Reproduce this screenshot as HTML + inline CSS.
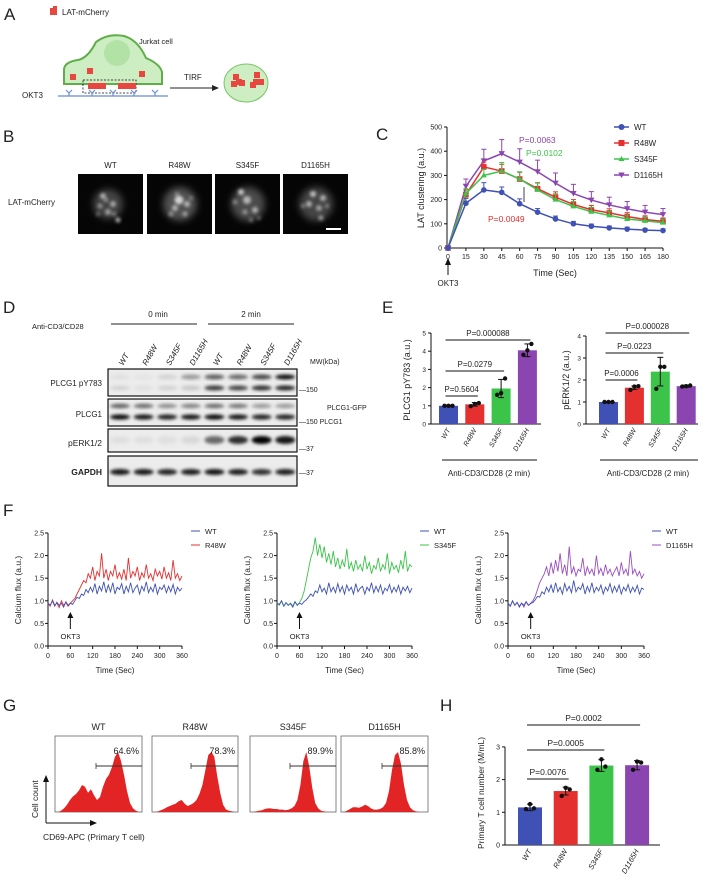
<!DOCTYPE html>
<html><head><meta charset="utf-8">
<style>
html,body{margin:0;padding:0;background:#fff;}
svg{display:block;font-family:"Liberation Sans",Arial,sans-serif;}
text{fill:#222;}
</style></head>
<body>
<svg id="fig" width="705" height="886" viewBox="0 0 705 886" xmlns="http://www.w3.org/2000/svg">
<defs>
<filter id="blur1" x="-50%" y="-50%" width="200%" height="200%"><feGaussianBlur stdDeviation="1.6"/></filter>
<filter id="blur2" x="-50%" y="-50%" width="200%" height="200%"><feGaussianBlur stdDeviation="3.5"/></filter>
</defs>
<!-- Panel A -->
<g>
<text x="4" y="20" font-size="17">A</text>
<g><rect x="50" y="8" width="7" height="7" fill="#e8473f"/><rect x="53" y="6" width="4" height="4" fill="#e8473f"/></g>
<text x="62" y="15" font-size="8">LAT-mCherry</text>
<path d="M64,84 L64,70 Q64,62 78,60 Q88,58 96,42 Q108,33 124,36 Q138,40 146,58 Q160,64 162,72 L162,84 Z" fill="#cdeec3" stroke="#5fae4a" stroke-width="2"/>
<circle cx="117" cy="53" r="13" fill="#b3e2a6"/>
<text x="139" y="44" font-size="7.5">Jurkat cell</text>
<rect x="83" y="80" width="53" height="13" fill="none" stroke="#111" stroke-dasharray="2,1.5" stroke-width="0.8"/>
<g fill="#e8473f">
<rect x="70" y="74" width="6" height="6"/><rect x="87" y="68" width="6" height="6"/><rect x="139" y="71" width="6" height="6"/>
<rect x="88" y="83" width="6" height="6"/><rect x="94" y="83" width="6" height="6"/><rect x="100" y="83" width="6" height="6"/>
<rect x="118" y="83" width="6" height="6"/><rect x="124" y="83" width="6" height="6"/><rect x="130" y="83" width="6" height="6"/>
</g>
<line x1="58" y1="96" x2="168" y2="96" stroke="#7fa0d8" stroke-width="1.5"/>
<g stroke="#6c8fd0" stroke-width="1.2" fill="none">
<path d="M66,90 L69,93 L72,90 M69,93 V96"/><path d="M89,90 L92,93 L95,90 M92,93 V96"/><path d="M110,90 L113,93 L116,90 M113,93 V96"/><path d="M131,90 L134,93 L137,90 M134,93 V96"/><path d="M152,90 L155,93 L158,90 M155,93 V96"/>
</g>
<text x="22" y="98" font-size="8">OKT3</text>
<text x="184" y="80" font-size="8">TIRF</text>
<line x1="170" y1="88" x2="213" y2="88" stroke="#222" stroke-width="1"/>
<path d="M219,88 L212,85 L212,91 Z" fill="#222"/>
<ellipse cx="246" cy="83" rx="22" ry="19" fill="#cdeec3" stroke="#7cc46a" stroke-width="1"/>
<g fill="#e8473f">
<rect x="233" y="74" width="6" height="6"/><rect x="236" y="79" width="6" height="6"/><rect x="231" y="81" width="6" height="6"/><rect x="239" y="80" width="6" height="6"/>
<rect x="254" y="72" width="6" height="6"/><rect x="253" y="79" width="6" height="6"/><rect x="258" y="79" width="6" height="6"/><rect x="250" y="82" width="6" height="6"/>
</g>
</g>
<!-- Panel B -->
<g>
<text x="3" y="142" font-size="17">B</text>
<text x="8" y="205" font-size="8">LAT-mCherry</text>
<g id="micro"></g>
</g>
<!-- Panel C -->
<g id="panelC">
<text x="376" y="140" font-size="17">C</text>
</g>
<!-- Panel D -->
<g id="panelD">
<text x="3" y="313" font-size="17">D</text>
<text x="32" y="329" font-size="7.5">Anti-CD3/CD28</text>
<text x="158" y="317" font-size="8" text-anchor="middle">0 min</text>
<text x="251" y="317" font-size="8" text-anchor="middle">2 min</text>
<line x1="111" y1="324" x2="197" y2="324" stroke="#222" stroke-width="0.9"/>
<line x1="208" y1="324" x2="294" y2="324" stroke="#222" stroke-width="0.9"/>
<text x="310" y="364" font-size="7">MW(kDa)</text>
<text x="102" y="386" font-size="8" text-anchor="end">PLCG1 pY783</text>
<text x="102" y="417" font-size="8" text-anchor="end">PLCG1</text>
<text x="102" y="446" font-size="8.5" text-anchor="end">pERK1/2</text>
<text x="102" y="475" font-size="8.5" text-anchor="end" font-weight="bold">GAPDH</text>
<text x="299" y="392" font-size="7">—150</text>
<text x="327" y="410" font-size="7">PLCG1-GFP</text>
<text x="299" y="424" font-size="7">—150 PLCG1</text>
<text x="299" y="451" font-size="7">—37</text>
<text x="299" y="475" font-size="7">—37</text>
</g>
<g id="panelE">
<text x="382" y="313" font-size="17">E</text>
</g>
<g id="panelF">
<text x="3" y="516" font-size="17">F</text>
</g>
<g id="panelG">
<text x="3" y="711" font-size="17">G</text>
<text x="38" y="818" font-size="8.5" transform="rotate(-90 38 818)">Cell count</text>
<line x1="46" y1="823" x2="46" y2="780" stroke="#111" stroke-width="1"/>
<path d="M46,775 L43,782 L49,782 Z" fill="#111"/>
<line x1="46" y1="823" x2="91" y2="823" stroke="#111" stroke-width="1"/>
<path d="M97,823 L90,820 L90,826 Z" fill="#111"/>
<text x="43" y="840" font-size="8.5">CD69-APC (Primary T cell)</text>
</g>
<g id="panelH">
<text x="440" y="711" font-size="17">H</text>
</g>
</svg>
<script>
var NS='http://www.w3.org/2000/svg';
function mk(tag,attrs,parent,txt){var e=document.createElementNS(NS,tag);for(var k in attrs)e.setAttribute(k,attrs[k]);if(txt!==undefined)e.textContent=txt;(parent||document.getElementById('fig')).appendChild(e);return e;}

/* ---------- Panel C data ---------- */
var cTimes=[0,15,30,45,60,75,90,105,120,135,150,165,180];
var cWT=[0,185,240,230,183,148,120,100,90,83,78,74,72];
var cWTerr=[0,20,30,22,20,15,12,10,9,8,8,7,7];
var cR48W=[0,220,335,318,285,245,210,180,158,145,130,118,110];
var cR48Werr=[0,20,20,28,28,25,22,20,18,17,16,15,14];
var cS345F=[0,225,300,318,285,240,200,172,150,135,120,112,105];
var cS345Ferr=[0,20,25,35,30,28,24,20,18,17,16,15,14];
var cD1165H=[0,255,360,390,355,315,268,225,198,178,162,148,138];
var cD1165Herr=[0,30,48,58,55,48,42,38,35,32,30,28,25];
var cYTicks=[0,100,200,300,400,500];
var cNames=['WT','R48W','S345F','D1165H'];
var colors=['#3f51b5','#e53030','#3cc44a','#8b45b0'];

(function(){
 var g=document.getElementById('panelC');
 var X=function(t){return 448+(t-0)/180*215;};
 var Y=function(v){return 248-v/500*121;};
 mk('line',{x1:447,y1:Y(0),x2:447,y2:Y(500),stroke:'#111','stroke-width':1},g);
 mk('line',{x1:447,y1:248,x2:X(180),y2:248,stroke:'#111','stroke-width':1},g);
 cYTicks.forEach(function(v){mk('line',{x1:444,y1:Y(v),x2:447,y2:Y(v),stroke:'#111'},g);
  var t=mk('text',{x:442,y:Y(v)+2.5,'font-size':7,'text-anchor':'end'},g,v);
  
  });
 cTimes.forEach(function(v){mk('line',{x1:X(v),y1:248,x2:X(v),y2:251,stroke:'#111'},g);
  var t=mk('text',{x:X(v),y:259,'font-size':7,'text-anchor':'middle'},g,v);
  
  });
 var yt=mk('text',{x:424,y:188,'font-size':9,'text-anchor':'middle',transform:'rotate(-90 424 188)'},g,'LAT clustering (a.u.)');
 
 
 var xt=mk('text',{x:555,y:276,'font-size':9,'text-anchor':'middle'},g,'Time (Sec)');
 
 
 mk('line',{x1:448,y1:263,x2:448,y2:275,stroke:'#111'},g);
 mk('path',{d:'M448,258 L445,265 L451,265 Z',fill:'#111'},g);
 var ok=mk('text',{x:448,y:286,'font-size':8,'text-anchor':'middle'},g,'OKT3');
 
 
 var series=[[cWT,cWTerr],[cR48W,cR48Werr],[cS345F,cS345Ferr],[cD1165H,cD1165Herr]];
 [3,1,2,0].forEach(function(si){
  var s=series[si][0],e=series[si][1],c=colors[si];
  var eg=mk('g',{},g);
  s.forEach(function(v,i){var x=X(cTimes[i]);
   mk('line',{x1:x,y1:Y(v),x2:x,y2:Y(v+e[i]),stroke:c,'stroke-width':1},eg);
   mk('line',{x1:x-2.5,y1:Y(v+e[i]),x2:x+2.5,y2:Y(v+e[i]),stroke:c,'stroke-width':1},eg);});
  var d=s.map(function(v,i){return (i?'L':'M')+X(cTimes[i])+','+Y(v);}).join(' ');
  var p=mk('path',{d:d,fill:'none',stroke:c,'stroke-width':1.5},g);
  
  
  s.forEach(function(v,i){var x=X(cTimes[i]),y=Y(v),m;
   if(si==0)m=mk('circle',{cx:x,cy:y,r:2.8,fill:c},g);
   else if(si==1)m=mk('rect',{x:x-2.8,y:y-2.8,width:5.6,height:5.6,fill:c},g);
   else if(si==2)m=mk('path',{d:'M'+x+','+(y-3)+' L'+(x+3)+','+(y+2)+' L'+(x-3)+','+(y+2)+'Z',fill:c},g);
   else m=mk('path',{d:'M'+x+','+(y+3)+' L'+(x+3.2)+','+(y-2.5)+' L'+(x-3.2)+','+(y-2.5)+'Z',fill:c},g);
   
   });
 });
 mk('line',{x1:524,y1:187,x2:524,y2:202,stroke:'#111','stroke-width':0.8},g);
 var p1=mk('text',{x:519,y:143,'font-size':8.5,fill:'#8b45b0'},g,'P=0.0063');p1.style.fill='#8b45b0';
 
 
 var p2=mk('text',{x:526,y:156,'font-size':8.5},g,'P=0.0102');p2.style.fill='#3cc44a';
 
 
 var p3=mk('text',{x:488,y:222,'font-size':8.5},g,'P=0.0049');p3.style.fill='#e53030';
 
 
 cNames.forEach(function(n,i){var y=127+i*16;
  mk('line',{x1:614,y1:y,x2:629,y2:y,stroke:colors[i],'stroke-width':1.5},g);
  if(i==0)mk('circle',{cx:621.5,cy:y,r:3,fill:colors[i]},g);
  else if(i==1)mk('rect',{x:618.5,y:y-3,width:6,height:6,fill:colors[i]},g);
  else if(i==2)mk('path',{d:'M621.5,'+(y-3)+' l3,5 l-6,0 Z',fill:colors[i]},g);
  else mk('path',{d:'M621.5,'+(y+3)+' l3.2,-5.5 l-6.4,0 Z',fill:colors[i]},g);
  var t=mk('text',{x:634,y:y+3,'font-size':8},g,n);
  
  });
})();

/* ---------- Panel B microscopy ---------- */
var bNames=['WT','R48W','S345F','D1165H'];
(function(){
 var g=document.getElementById('micro');
 var xs=[78,147,215,283];
 var blobs=[
  [[30,30,15,0.25],[25,22,3,0.6],[35,30,3,0.55],[30,38,3,0.5],[40,46,2.5,0.7],[22,32,2.5,0.45],[28,26,2,0.5],[36,40,2,0.45],[20,40,2,0.35]],
  [[33,30,17,0.3],[32,26,4.5,0.75],[28,34,3,0.6],[40,30,3,0.6],[24,40,2.5,0.45],[38,40,2.5,0.5],[30,20,2,0.4],[44,24,2,0.35]],
  [[33,30,17,0.28],[26,18,3,0.75],[32,26,4,0.6],[40,36,3,0.6],[30,38,2.5,0.45],[20,28,2.5,0.4],[36,46,2,0.4],[44,44,2,0.35]],
  [[33,30,17,0.25],[30,20,3,0.7],[40,24,3,0.6],[26,30,3,0.6],[36,34,3,0.5],[38,44,2.5,0.55],[20,32,2,0.4],[44,32,2,0.4]]];
 xs.forEach(function(x,i){
  var r=mk('rect',{x:x,y:174,width:65,height:60,fill:'#050505'},g);
  
  
  blobs[i].forEach(function(b,j){mk('circle',{cx:x+b[0],cy:174+b[1],r:b[2],fill:'#fff','fill-opacity':b[3],filter:j==0?'url(#blur2)':'url(#blur1)'},g);});
  var t=mk('text',{x:x+32.5,y:168,'font-size':8,'text-anchor':'middle'},g,bNames[i]);
  
  });
 mk('line',{x1:326,y1:229,x2:341,y2:229,stroke:'#fff','stroke-width':2},g);
})();

/* ---------- Panel D blots ---------- */
var dLanes=['WT','R48W','S345F','D1165H','WT','R48W','S345F','D1165H'];
var dPY783Upper=[0.05,0.03,0.1,0.35,0.6,0.55,0.7,0.95];
var dPY783Lower=[0.1,0.05,0.1,0.15,0.75,0.7,0.8,0.85];
var dPLCG1Upper=[0.6,0.55,0.4,0.45,0.55,0.5,0.35,0.35];
var dPLCG1Lower=[0.95,0.9,0.85,0.9,0.95,0.9,0.85,0.85];
var dPERK=[0.05,0.05,0.05,0.08,0.55,0.8,1.0,0.9];
var dGAPDH=[0.9,0.9,0.85,0.88,0.92,0.88,0.8,0.88];
(function(){
 var g=document.getElementById('panelD');
 var L=function(i){return 120+i*23.6;};
 var boxes=[[369,27],[399,27],[429,23],[456,30]];
 var bn=['blot-plcg1-py783','blot-plcg1','blot-perk','blot-gapdh'];
 boxes.forEach(function(b,i){var r=mk('rect',{x:108,y:b[0],width:189,height:b[1],fill:'#ececec',stroke:'#111','stroke-width':1.2},g);
  
  });
 function bands(arr,y,h){arr.forEach(function(v,i){var b=mk('ellipse',{cx:L(i),cy:y,rx:10,ry:h,fill:'#000','fill-opacity':v,filter:'url(#blur1)'},g);
  
  });}
 bands(dPY783Upper,377,2.5);bands(dPY783Lower,388,2.5);
 bands(dPLCG1Upper,406,2.2);bands(dPLCG1Lower,417,2.6);
 bands(dPERK,440,4);bands(dGAPDH,472,3);
 dLanes.forEach(function(n,i){var x=L(i)+3,y=366;
  var t=mk('text',{x:x,y:y,'font-size':8,'font-style':'italic',transform:'rotate(-60 '+x+' '+y+')'},g,n);
  
  });
})();

/* ---------- Panel E ---------- */
var eCats=['WT','R48W','S345F','D1165H'];
var e1Vals=[1.0,1.08,1.95,4.05];
var e1Err=[0.03,0.1,0.5,0.35];
var e1Pts=[[1,1,1],[0.98,1.1,1.15],[1.6,1.7,2.5],[3.8,4.05,4.4]];
var e1Ticks=[0,1,2,3,4,5];
var e1P=['P=0.5604','P=0.0279','P=0.000088'];
var e2Vals=[1.0,1.65,2.38,1.72];
var e2Err=[0.03,0.08,0.65,0.05];
var e2Pts=[[1,1,1],[1.55,1.7,1.72],[1.6,2.6,2.6],[1.7,1.72,1.75]];
var e2Ticks=[0,1,2,3,4];
var e2P=['P=0.0006','P=0.0223','P=0.000028'];
function barChart(g,o){
 var Y=function(v){return o.y0-v*o.unit;};
 var top=Y(o.ticks[o.ticks.length-1]);
 mk('line',{x1:o.ax,y1:o.y0,x2:o.ax,y2:top,stroke:'#111'},g);
 mk('line',{x1:o.ax,y1:o.y0,x2:o.axEnd,y2:o.y0,stroke:'#111'},g);
 o.ticks.forEach(function(v){mk('line',{x1:o.ax-3,y1:Y(v),x2:o.ax,y2:Y(v),stroke:'#111'},g);
  var t=mk('text',{x:o.ax-5,y:Y(v)+2.5,'font-size':o.fs,'text-anchor':'end'},g,v);
  
  });
 o.vals.forEach(function(v,i){var x=o.x0+i*o.step;
  var b=mk('rect',{x:x,y:Y(v),width:o.bw,height:v*o.unit,fill:colors[i]},g);
  
  
  var cx=x+o.bw/2;
  mk('line',{x1:cx,y1:Y(v-o.err[i]),x2:cx,y2:Y(v+o.err[i]),stroke:'#111','stroke-width':1},g);
  mk('line',{x1:cx-3,y1:Y(v+o.err[i]),x2:cx+3,y2:Y(v+o.err[i]),stroke:'#111'},g);
  mk('line',{x1:cx-3,y1:Y(v-o.err[i]),x2:cx+3,y2:Y(v-o.err[i]),stroke:'#111'},g);
  o.pts[i].forEach(function(p,j){var d=mk('circle',{cx:cx+(j-1)*4,cy:Y(p),r:2.2,fill:'#111'},g);
   
   });
  var lx=cx+2,ly=o.y0+6;
  var t=mk('text',{x:lx,y:ly,'font-size':o.fs+0.5,'text-anchor':'end','font-style':'italic',transform:'rotate(-60 '+lx+' '+ly+')'},g,o.cats[i]);
  
  });
 var yt=mk('text',{x:o.ylx,y:o.yly,'font-size':o.tfs,'text-anchor':'middle',transform:'rotate(-90 '+o.ylx+' '+o.yly+')'},g,o.ylabel);
 
 
 o.pLines.forEach(function(pl,k){var x1=o.x0+o.bw/2-3,x2=o.x0+pl[0]*o.step+o.bw/2+3;
  mk('line',{x1:x1,y1:pl[1],x2:x2,y2:pl[1],stroke:'#111','stroke-width':1},g);
  var t=mk('text',{x:(x1+x2)/2,y:pl[1]-4,'font-size':o.pfs,'text-anchor':'middle'},g,o.pTxt[k]);
  
  });
}
(function(){
 var g=document.getElementById('panelE');
 barChart(g,{id:'e1',cats:eCats,vals:e1Vals,err:e1Err,pts:e1Pts,ticks:e1Ticks,y0:424,unit:18.2,ax:431,axEnd:541,x0:439,step:26.3,bw:19,fs:6.5,tfs:9,pfs:8,ylx:410,yly:380,ylabel:'PLCG1 pY783 (a.u.)',pLines:[[1,396],[2,371],[3,340]],pTxt:e1P});
 barChart(g,{id:'e2',cats:eCats,vals:e2Vals,err:e2Err,pts:e2Pts,ticks:e2Ticks,y0:424,unit:22,ax:586,axEnd:698,x0:599,step:25.9,bw:19,fs:6.5,tfs:9,pfs:8,ylx:569,yly:380,ylabel:'pERK1/2 (a.u.)',pLines:[[1,380],[2,353],[3,333]],pTxt:e2P});
 mk('line',{x1:442,y1:460,x2:537,y2:460,stroke:'#111'},g);
 mk('line',{x1:600,y1:460,x2:698,y2:460,stroke:'#111'},g);
 var a=mk('text',{x:489,y:476,'font-size':8,'text-anchor':'middle'},g,'Anti-CD3/CD28 (2 min)');
 
 
 var b=mk('text',{x:648,y:476,'font-size':8,'text-anchor':'middle'},g,'Anti-CD3/CD28 (2 min)');
 
 
})();

/* ---------- Panel F calcium ---------- */
var fTicks=[0,60,120,180,240,300,360];
var fYTicks=[0.0,0.5,1.0,1.5,2.0,2.5];
var fWT1=[0.95,0.9,1.0,0.88,0.97,0.9,0.95,0.86,0.98,0.9,0.95,0.92,1.0,1.08,1.05,1.15,1.12,1.25,1.18,1.3,1.2,1.38,1.15,1.32,1.22,1.42,1.18,1.35,1.2,1.4,1.15,1.3,1.25,1.38,1.15,1.32,1.2,1.4,1.18,1.28,1.35,1.15,1.32,1.22,1.42,1.18,1.3,1.2,1.38,1.15,1.3,1.25,1.35,1.18,1.32,1.2,1.36,1.15,1.3,1.22,1.28];
var fR48W=[0.95,0.88,1.02,0.9,0.95,0.85,1.0,0.9,0.96,0.88,0.94,1.0,1.05,1.15,1.25,1.35,1.45,1.4,1.6,1.5,1.75,1.45,1.65,1.55,2.05,1.5,1.7,1.45,1.65,1.55,1.8,1.5,1.62,1.48,1.7,1.45,1.95,1.5,1.65,1.55,1.75,1.45,1.62,1.52,1.8,1.5,1.6,1.45,1.7,1.55,1.65,1.48,1.75,1.5,1.62,1.45,1.9,1.5,1.6,1.45,1.55];
var fWT2=[0.95,0.92,1.0,0.88,0.96,0.9,0.94,0.86,0.98,0.9,0.95,0.92,0.98,1.02,1.08,1.15,1.1,1.22,1.18,1.35,1.2,1.28,1.15,1.4,1.2,1.3,1.18,1.38,1.2,1.32,1.15,1.35,1.22,1.3,1.15,1.38,1.2,1.28,1.32,1.15,1.3,1.22,1.4,1.18,1.32,1.2,1.35,1.15,1.28,1.22,1.36,1.18,1.3,1.2,1.34,1.15,1.3,1.22,1.32,1.18,1.28];
var fS345F=[0.95,0.9,1.0,0.88,0.96,0.9,0.95,0.88,0.98,0.9,0.96,1.05,1.2,1.45,1.7,1.95,2.1,2.4,2.0,2.25,1.95,2.2,1.85,2.05,1.8,2.1,1.75,1.95,1.7,1.9,1.75,2.15,1.7,1.85,1.65,1.9,1.7,1.8,1.65,2.0,1.7,1.85,1.6,1.78,1.7,1.95,1.65,1.8,1.7,2.05,1.6,1.85,1.7,1.78,1.62,1.9,1.7,2.1,1.65,1.8,1.75];
var fWT3=[0.95,0.88,1.0,0.9,0.97,0.86,0.95,0.9,0.98,0.9,0.94,0.96,1.02,1.1,1.08,1.2,1.15,1.3,1.2,1.35,1.18,1.4,1.2,1.3,1.15,1.38,1.22,1.32,1.18,1.45,1.2,1.3,1.25,1.38,1.15,1.32,1.2,1.4,1.18,1.3,1.22,1.35,1.15,1.3,1.22,1.38,1.18,1.32,1.2,1.35,1.15,1.3,1.22,1.36,1.18,1.3,1.2,1.34,1.15,1.28,1.25];
var fD1165H=[0.95,0.88,1.0,0.9,0.96,0.88,0.95,0.86,0.98,0.9,0.95,1.0,1.1,1.25,1.4,1.5,1.6,1.75,1.55,1.85,1.6,1.9,1.65,2.05,1.6,1.8,1.55,2.2,1.6,1.75,1.55,1.7,1.65,1.95,1.55,1.75,1.6,1.7,1.55,2.0,1.6,1.72,1.55,1.8,1.6,1.7,1.55,1.65,1.75,1.55,1.85,1.6,1.7,1.55,2.1,1.6,1.7,1.55,1.65,1.5,1.6];
(function(){
 var g=document.getElementById('panelF');
 var charts=[{x0:48,x1:182,wt:fWT1,mut:fR48W,c:'#e53030',n:'R48W',lx:191},{x0:277,x1:412,wt:fWT2,mut:fS345F,c:'#3cc44a',n:'S345F',lx:420},{x0:508,x1:644,wt:fWT3,mut:fD1165H,c:'#9b4fc0',n:'D1165H',lx:652}];
 charts.forEach(function(ch,ci){
  var X=function(t){return ch.x0+t/360*(ch.x1-ch.x0);};
  var Y=function(v){return 646-v*45.2;};
  mk('line',{x1:ch.x0,y1:646,x2:ch.x0,y2:Y(2.5),stroke:'#111'},g);
  mk('line',{x1:ch.x0,y1:646,x2:ch.x1,y2:646,stroke:'#111'},g);
  fYTicks.forEach(function(v){mk('line',{x1:ch.x0-3,y1:Y(v),x2:ch.x0,y2:Y(v),stroke:'#111'},g);
   var t=mk('text',{x:ch.x0-4,y:Y(v)+2.5,'font-size':7,'text-anchor':'end'},g,v.toFixed(1));
   
   });
  fTicks.forEach(function(v){mk('line',{x1:X(v),y1:646,x2:X(v),y2:649,stroke:'#111'},g);
   var t=mk('text',{x:X(v),y:658,'font-size':7,'text-anchor':'middle'},g,v);
   
   });
  var xt=mk('text',{x:(ch.x0+ch.x1)/2,y:673,'font-size':8,'text-anchor':'middle'},g,'Time (Sec)');
  
  
  var yx=ch.x0-27;
  var yt=mk('text',{x:yx,y:590,'font-size':8.5,'text-anchor':'middle',transform:'rotate(-90 '+yx+' 590)'},g,'Calcium flux (a.u.)');
  
  
  function line(arr,c,name){var st=360/(arr.length-1);
   var d=arr.map(function(v,i){return (i?'L':'M')+X(i*st).toFixed(1)+','+Y(v).toFixed(1);}).join(' ');
   var p=mk('path',{d:d,fill:'none',stroke:c,'stroke-width':0.9},g);
   
   }
  line(ch.mut,ch.c,'f-trace-'+ch.n.toLowerCase());
  line(ch.wt,'#3f51b5','f-trace-wt');
  var ax=X(60);
  mk('line',{x1:ax,y1:617,x2:ax,y2:629,stroke:'#111'},g);
  mk('path',{d:'M'+ax+',612 l-3,6 l6,0 Z',fill:'#111'},g);
  var ok=mk('text',{x:ax,y:639,'font-size':7.5,'text-anchor':'middle'},g,'OKT3');
  
  
  [['WT','#3f51b5',531],[ch.n,ch.c,545]].forEach(function(l){
   mk('line',{x1:ch.lx,y1:l[2],x2:ch.lx+9,y2:l[2],stroke:l[1],'stroke-width':1},g);
   var t=mk('text',{x:ch.lx+14,y:l[2]+3,'font-size':7.5},g,l[0]);
   
   });
 });
})();

/* ---------- Panel G histograms ---------- */
var gNames=['WT','R48W','S345F','D1165H'];
var gPct=['64.6%','78.3%','89.9%','85.8%'];
var gHistWT=[0,0.02,0.06,0.12,0.2,0.26,0.3,0.36,0.45,0.42,0.32,0.38,0.28,0.2,0.25,0.42,0.55,0.62,0.75,0.92,1.0,0.85,0.62,0.35,0.15,0.06,0.02,0];
var gHistR48W=[0,0.01,0.03,0.05,0.08,0.1,0.12,0.14,0.18,0.2,0.14,0.1,0.12,0.15,0.2,0.3,0.45,0.7,0.95,1.0,0.92,0.6,0.32,0.12,0.04,0.02,0.01,0];
var gHistS345F=[0,0.01,0.02,0.03,0.05,0.06,0.06,0.05,0.05,0.04,0.04,0.03,0.04,0.06,0.1,0.2,0.45,0.85,1.0,0.75,0.4,0.15,0.06,0.02,0.01,0,0,0];
var gHistD1165H=[0,0.02,0.05,0.08,0.08,0.07,0.09,0.12,0.1,0.06,0.04,0.04,0.05,0.08,0.15,0.35,0.7,0.95,1.0,0.8,0.45,0.2,0.08,0.03,0.01,0,0,0];
var gGate=[96,191,290,382];
(function(){
 var g=document.getElementById('panelG');
 var bx=[55,152,250,341],bw=[87,86,86,87];
 var hists=[gHistWT,gHistR48W,gHistS345F,gHistD1165H];
 hists.forEach(function(h,i){
  var x0=bx[i],w=bw[i],yb=812,H=60;
  var r=mk('rect',{x:x0,y:736,width:w,height:76,fill:'#fff',stroke:'#666','stroke-width':0.8},g);
  
  
  var st=(w-6)/(h.length-1);
  var d='M'+(x0+3)+','+yb+' '+h.map(function(v,j){return 'L'+(x0+3+j*st).toFixed(1)+','+(yb-v*H).toFixed(1);}).join(' ')+' L'+(x0+w-3)+','+yb+' Z';
  var p=mk('path',{d:d,fill:'#e32424'},g);
  
  
  mk('line',{x1:gGate[i],y1:766,x2:x0+w,y2:766,stroke:'#333','stroke-width':0.9},g);
  mk('line',{x1:gGate[i],y1:763,x2:gGate[i],y2:769,stroke:'#333','stroke-width':0.8},g);
  var t=mk('text',{x:x0+w-3,y:754,'font-size':9,'text-anchor':'end'},g,gPct[i]);
  
  
  var hd=mk('text',{x:x0+w/2,y:730,'font-size':9,'text-anchor':'middle'},g,gNames[i]);
  
  
 });
})();

/* ---------- Panel H ---------- */
var hCats=['WT','R48W','S345F','D1165H'];
var hVals=[1.15,1.65,2.43,2.44];
var hErr=[0.1,0.12,0.18,0.14];
var hPts=[[1.1,1.25,1.12],[1.5,1.75,1.7],[2.3,2.62,2.4],[2.3,2.55,2.52]];
var hTicks=[0,1,2,3];
var hP=['P=0.0076','P=0.0005','P=0.0002'];
(function(){
 var g=document.getElementById('panelH');
 barChart(g,{id:'h',cats:hCats,vals:hVals,err:hErr,pts:hPts,ticks:hTicks,y0:845,unit:32.7,ax:505,axEnd:660,x0:518,step:35.7,bw:24,fs:7,tfs:8.5,pfs:8.5,ylx:484,yly:793,ylabel:'Primary T cell number (M/mL)',pLines:[[1,779],[2,750],[3,725]],pTxt:hP});
})();
</script>
</body></html>
